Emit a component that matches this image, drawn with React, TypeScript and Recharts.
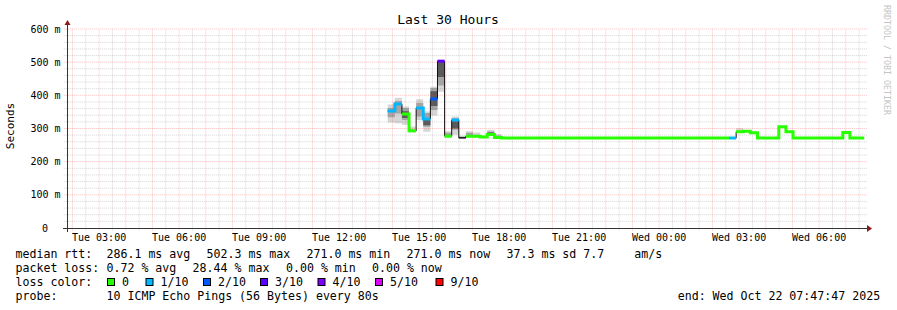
import React from 'react';
import { ComposedChart, Line, Area, XAxis, YAxis, ReferenceLine } from 'recharts';

// ---------- text ----------
const TITLE = 'Last 30 Hours';
const Y_TITLE = 'Seconds';
const WATERMARK = 'RRDTOOL / TOBI OETIKER';

// ---------- time window (hours since Tue 01:47:47) ----------
const WINDOW_HOURS = 30;
const WINDOW_START_CLOCK = 1 + 47 / 60 + 47 / 3600;

const xTickClock = [3, 6, 9, 12, 15, 18, 21, 24, 27, 30];
const xTickLabels = [
  'Tue 03:00', 'Tue 06:00', 'Tue 09:00', 'Tue 12:00', 'Tue 15:00',
  'Tue 18:00', 'Tue 21:00', 'Wed 00:00', 'Wed 03:00', 'Wed 06:00',
];

const yTicks = [0, 100, 200, 300, 400, 500, 600];
const yTickLabels = ['0', '100 m', '200 m', '300 m', '400 m', '500 m', '600 m'];

// ---------- RRD bins: 16 minutes each, first bin starts Tue 13:49:23 ----------
const BIN_HOURS = 16 / 60;
const FIRST_BIN_CLOCK = 13 + 49 / 60 + 23 / 3600;

// median rtt per bin (ms)
const medianRtt = [
  353, 374, 344, 293, 362, 329, 389, 503, 277, 326,
  272, 277, 277, 274, 282, 273, 271, 271, 271, 271,
  271, 271, 271, 271, 271, 271, 271, 271, 271, 271,
  271, 271, 271, 271, 271, 271, 271, 271, 271, 271,
  271, 271, 271, 271, 271, 271, 271, 271, 271, 290,
  292, 287, 271, 271, 271, 305, 290, 271, 271, 271,
  271, 271, 271, 271, 288, 271, 271,
];

// loss per bin in tenths (-1: no colour drawn)
const lossTenths = [
  1, 1, 0, 0, 1, 1, 2, 3, 0, 1,
  -1, 0, 0, 0, 0, 0, 0, 0, 0, 0,
  0, 0, 0, 0, 0, 0, 0, 0, 0, 0,
  0, 0, 0, 0, 0, 0, 0, 0, 0, 0,
  0, 0, 0, 0, 0, 0, 0, 0, 1, 0,
  0, 0, 0, 0, 0, 0, 0, 0, 0, 0,
  0, 0, 0, 0, 0, 0, 0,
];

type Band = [number, number] | null;
const _ = null;
// smoke: outer (light), mid, core (dark) ranges of ping values per bin
const smokeOuter: Band[] = [
  [318, 372], [316, 393], [311, 366], [288, 306], [326, 388], [290, 351], [339, 426], [411, 503], [276, 292], [281, 336],
  [270, 278], [276, 292], [276, 288], [273, 279], [281, 296], [272, 283], _, _, _, _,
  _, _, _, _, _, _, _, _, _, _,
  _, _, _, _, _, _, _, _, _, _,
  _, _, _, _, _, _, _, _, _, [288, 301],
  _, _, _, _, _, _, _, _, _, _,
  _, _, _, _, [286, 293], _, _,
];
const smokeMid: Band[] = [
  [334, 362], [345, 383], [326, 362], _, [336, 377], [305, 347], [356, 422], [430, 503], [277, 287], [296, 331],
  [270, 275], [277, 287], _, _, [281, 291], [272, 279], _, _, _, _,
  _, _, _, _, _, _, _, _, _, _,
  _, _, _, _, _, _, _, _, _, _,
  _, _, _, _, _, _, _, _, _, _,
  _, _, _, _, _, _, _, _, _, _,
  _, _, _, _, _, _, _,
];
const smokeCore: Band[] = [
  _, _, [332, 352], _, _, [310, 332], [368, 412], [455, 503], _, [300, 322],
  [270, 274], _, _, _, [282, 288], _, _, _, _, _,
  _, _, _, _, _, _, _, _, _, _,
  _, _, _, _, _, _, _, _, _, _,
  _, _, _, _, _, _, _, _, _, _,
  _, _, _, _, _, _, _, _, _, _,
  _, _, _, _, _, _, _,
];

// loss legend
const lossLevels = [0, 1, 2, 3, 4, 5, 9];
const lossLabels = ['0', '1/10', '2/10', '3/10', '4/10', '5/10', '9/10'];
const lossColors = ['#26ff00', '#00b8ff', '#0059ff', '#5e00ff', '#7e00ff', '#dd00ff', '#ff0000'];

// statistics text
const rttStats = ['286.1 ms avg', '502.3 ms max', '271.0 ms min', '271.0 ms now', '37.3 ms sd', '7.7', 'am/s'];
const lossStats = ['0.72 % avg', '28.44 % max', '0.00 % min', '0.00 % now'];
const probeText = '10 ICMP Echo Pings (56 Bytes) every 80s';
const endText = 'end: Wed Oct 22 07:47:47 2025';

// ---------- build table ----------
const EPS = 0.0005;
const rows: any[] = [];
medianRtt.forEach((v, i) => {
  const t0 = FIRST_BIN_CLOCK - WINDOW_START_CLOCK + i * BIN_HOURS;
  const t1 = t0 + BIN_HOURS - EPS;
  [t0, t1].forEach((t) => {
    const r: any = { t, med: v, outer: smokeOuter[i], mid: smokeMid[i], core: smokeCore[i] };
    lossLevels.forEach((lv) => {
      r['l' + lv] = lossTenths[i] === lv ? v : null;
    });
    rows.push(r);
  });
});

const xTicks = xTickClock.map((c) => c - WINDOW_START_CLOCK);
const majorX: number[] = [];
const minorX: number[] = [];
for (let c = 0; c < 40; c += 0.5) {
  const h = c - WINDOW_START_CLOCK;
  if (h > 0 && h < WINDOW_HOURS) (c % 1 === 0 ? majorX : minorX).push(h);
}
const majorY: number[] = [];
const minorY: number[] = [];
for (let v = 20; v <= 600; v += 20) (v % 100 === 0 ? majorY : minorY).push(v);

const MONO = "'DejaVu Sans Mono', monospace";
const MAJOR = 'rgba(255,50,50,0.3)';
const MINOR = 'rgba(120,120,120,0.3)';

const renderXTick = (p: any) => {
  const idx = xTicks.findIndex((t) => Math.abs(t - p.payload.value) < 1e-6);
  return (
    <text x={p.x} y={p.y + 13} textAnchor="middle" fontFamily={MONO} fontSize={10} fill="#000">
      {xTickLabels[idx]}
    </text>
  );
};
const renderYTick = (p: any) => {
  const idx = yTicks.indexOf(p.payload.value);
  const label = yTickLabels[idx];
  const pad = label.length < 5 ? 12.5 : 0;
  return (
    <text x={p.x - 6.5 - pad} y={p.y + 3.6} textAnchor="end" fontFamily={MONO} fontSize={10} fill="#000">
      {label}
    </text>
  );
};

const boxX = [107.5, 146, 203.5, 260.5, 318, 375.5, 436];

export default function App() {
  return (
    <div style={{ position: 'absolute', left: 0, top: 0, width: 897, height: 310, background: '#fff' }}>
      <ComposedChart width={897} height={310} data={rows} margin={{ top: 29, right: 30, bottom: 62, left: 7 }}>
        <XAxis
          type="number"
          dataKey="t"
          domain={[0, WINDOW_HOURS]}
          ticks={xTicks}
          interval={0}
          height={20}
          axisLine={false}
          tickLine={false}
          tickSize={0}
          tickMargin={0}
          tick={renderXTick}
          allowDataOverflow
        />
        <YAxis
          type="number"
          domain={[0, 600]}
          ticks={yTicks}
          interval={0}
          width={60}
          axisLine={false}
          tickLine={false}
          tickSize={0}
          tickMargin={0}
          tick={renderYTick}
          allowDataOverflow
        />
        {minorY.map((v) => (
          <ReferenceLine key={'my' + v} segment={[{ x: -0.12, y: v }, { x: WINDOW_HOURS, y: v }]} ifOverflow="visible" stroke={MINOR} strokeDasharray="1 1" />
        ))}
        {minorX.map((h) => (
          <ReferenceLine key={'mx' + h} segment={[{ x: h, y: -8 }, { x: h, y: 600 }]} ifOverflow="visible" stroke={MINOR} strokeDasharray="1 1" />
        ))}
        {majorY.map((v) => (
          <ReferenceLine key={'My' + v} segment={[{ x: -0.12, y: v }, { x: WINDOW_HOURS, y: v }]} ifOverflow="visible" stroke={MAJOR} strokeDasharray="1 1" />
        ))}
        {majorX.map((h) => (
          <ReferenceLine key={'Mx' + h} segment={[{ x: h, y: -8 }, { x: h, y: 600 }]} ifOverflow="visible" stroke={MAJOR} strokeDasharray="1 1" />
        ))}
        <Area dataKey="outer" type="linear" stroke="none" fill="#d6d6d6" fillOpacity={1} connectNulls={false} isAnimationActive={false} />
        <Area dataKey="mid" type="linear" stroke="none" fill="#a6a6a6" fillOpacity={1} connectNulls={false} isAnimationActive={false} />
        <Area dataKey="core" type="linear" stroke="none" fill="#5a5a5a" fillOpacity={1} connectNulls={false} isAnimationActive={false} />
        <Line dataKey="med" type="linear" stroke="#111" strokeWidth={1} dot={false} connectNulls={false} isAnimationActive={false} />
        {lossLevels.map((lv, i) => (
          <Line
            key={lv}
            dataKey={'l' + lv}
            type="linear"
            stroke={lossColors[i]}
            strokeWidth={3}
            dot={false}
            connectNulls={false}
            isAnimationActive={false}
          />
        ))}
      </ComposedChart>
      <svg width={897} height={310} style={{ position: 'absolute', left: 0, top: 0, pointerEvents: 'none' }}>
        <text x={448} y={23.5} textAnchor="middle" fontFamily={MONO} fontSize={13} fill="#000">{TITLE}</text>
        <text transform="translate(14,126) rotate(-90)" textAnchor="middle" fontFamily={MONO} fontSize={11} fill="#000">{Y_TITLE}</text>
        <text transform="translate(884,60) rotate(90)" textAnchor="middle" fontFamily={MONO} fontSize={8.3} fill="#c4c4c4">{WATERMARK}</text>
        {/* axes */}
        <line x1={63} y1={228.5} x2={868} y2={228.5} stroke="#333" strokeWidth={1} />
        <line x1={67.5} y1={232} x2={67.5} y2={24} stroke="#333" strokeWidth={1} />
        <polygon points="867,225 867,232 872,228.5" fill="#8b1a1a" />
        <polygon points="64.5,25 70.5,25 67.5,20" fill="#8b1a1a" />
        {/* legend */}
        <g fontFamily={MONO} fontSize={11.6} fill="#000">
          <text x={15.5} y={257.6}>median rtt:</text>
          {rttStats.map((s, i) => (
            <text key={s} x={[106.5, 206.5, 306.5, 406.5, 506.5, 583.3, 634.3][i]} y={257.6}>{s}</text>
          ))}
          <text x={15.5} y={271.8}>packet loss:</text>
          {lossStats.map((s, i) => (
            <text key={s} x={[106.5, 192.6, 286, 372][i]} y={271.8}>{s}</text>
          ))}
          <text x={15.5} y={286}>loss color:</text>
          {lossLabels.map((l, i) => (
            <g key={l}>
              <rect x={boxX[i]} y={278.5} width={7} height={7} fill={lossColors[i]} stroke="#000" strokeWidth={1} />
              <text x={boxX[i] + 14.5} y={286}>{l}</text>
            </g>
          ))}
          <text x={15.5} y={300.2}>probe:</text>
          <text x={106.5} y={300.2}>{probeText}</text>
          <text x={677.7} y={300.2}>{endText}</text>
        </g>
      </svg>
    </div>
  );
}
